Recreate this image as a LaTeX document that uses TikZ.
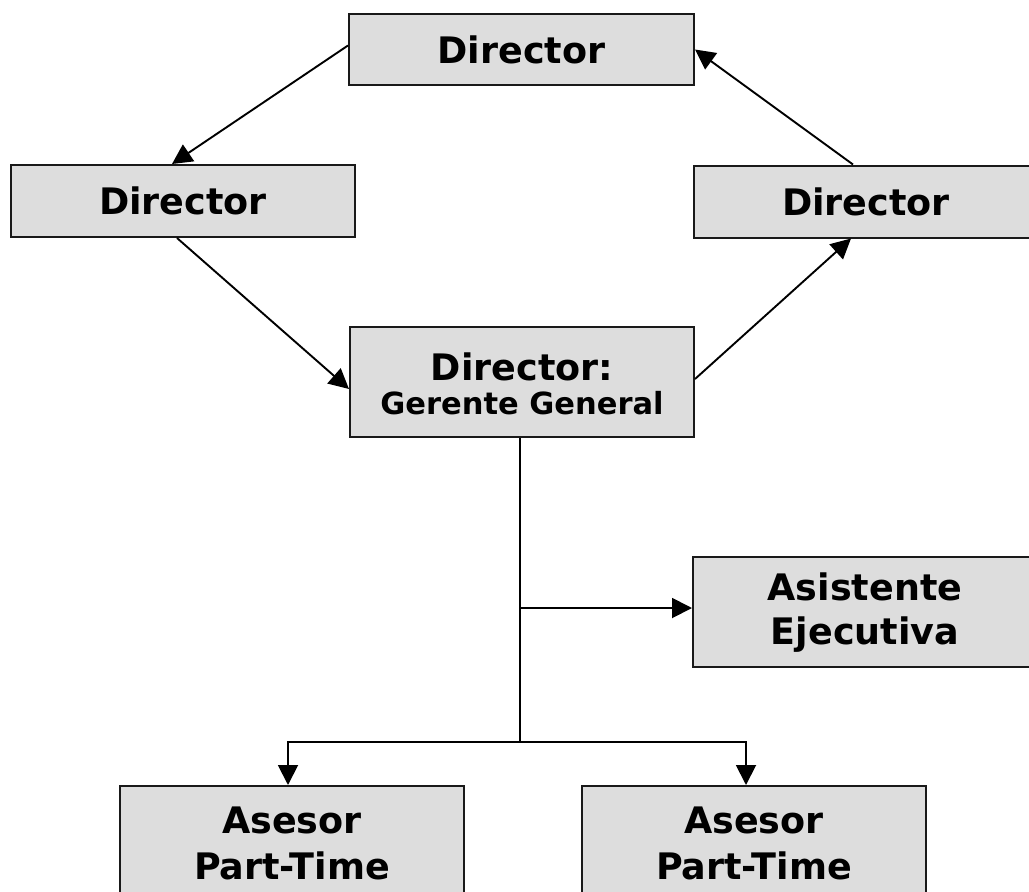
\documentclass[tikz,border=0pt]{standalone}
\usepackage{fontspec}
\setmainfont{DejaVu Sans}
\usetikzlibrary{arrows.meta,calc}
\tikzset{
  boxtext/.style={inner sep=0pt, align=center,
    font=\bfseries\fontsize{36.5}{46}\selectfont},
  box/.style={boxtext, draw=black!90, line width=2pt, fill=gray!27},
  conn/.style={line width=1.9pt, black},
  arr/.style={conn, -{Triangle[length=20pt,width=20pt]}}
}
\begin{document}
\begin{tikzpicture}[x=1pt,y=-1pt]
\useasboundingbox (0,0) rectangle (1029,892);
\clip (0,0) rectangle (1029,892);
\fill[white] (0,0) rectangle (1029,892);
\node[box, minimum width=345pt, minimum height=71pt] (top) at (521.5,49.5) {Director};
\node[box, minimum width=344pt, minimum height=72pt] (left) at (183,201) {Director};
\node[box, minimum width=344pt, minimum height=72pt] (right) at (866,201.5) {Director};
\node[box, minimum width=344pt, minimum height=110pt] (gg) at (522,382) {};
\node[boxtext] (ggT) at (522,384)
  {Director:\\[-12pt]{\fontsize{30.5}{30}\selectfont Gerente General}};
\node[box, minimum width=344pt, minimum height=110pt] (asis) at (865,611.5) {};
\node[boxtext] (asisT) at (865,613) {Asistente\\[-2pt]Ejecutiva};
\node[box, minimum width=344pt, minimum height=114pt] (as1) at (292,843) {Asesor\\Part-Time};
\node[box, minimum width=344pt, minimum height=114pt] (as2) at (754,843) {Asesor\\Part-Time};
\coordinate (b) at (520,608);
\coordinate (j) at (520,742);
\draw[arr] ([yshift=4pt]top.west) -- ([xshift=-11pt]left.north);
\draw[arr] ([xshift=-6pt]left.south) -- ([yshift=-7pt]gg.west);
\draw[arr] ([yshift=3pt]gg.east) -- ([xshift=-15pt]right.south);
\draw[arr] ([xshift=-13pt]right.north) -- (top.east);
\draw[conn] (gg.south -| j) -- (j);
\draw[arr] (b) -- (b -| asis.west);
\draw[arr] (j) -| ([xshift=-4pt]as1.north);
\draw[arr] (j) -| ([xshift=-8pt]as2.north);
\end{tikzpicture}
\end{document}
